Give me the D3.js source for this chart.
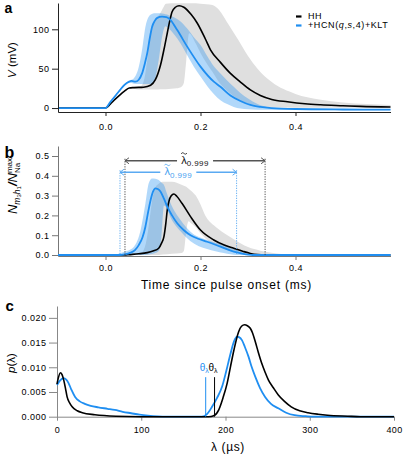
<!DOCTYPE html>
<html><head><meta charset="utf-8">
<script src="https://cdn.jsdelivr.net/npm/d3@7"></script>
<style>
body{margin:0;background:#fff;}
svg{display:block;font-family:"Liberation Sans",Arial,Helvetica,sans-serif;}
</style></head><body>
<svg id="c" width="404" height="454"></svg>
<script>
// ---------- DATA ----------
// Panel a: membrane potential V (mV) vs time (ms)
const aHH = [[-0.1,0],[0,0],[0.01,5],[0.02,11],[0.03,16.5],[0.04,21.5],[0.05,25.5],[0.06,26],[0.08,26.5],[0.095,29],[0.105,36],[0.116,55],[0.125,80],[0.13,95],[0.135,110],[0.14,122],[0.147,128],[0.155,130],[0.165,128],[0.18,119],[0.193,108],[0.21,88],[0.221,74],[0.242,58],[0.263,44],[0.284,33],[0.305,23],[0.326,16],[0.35,11],[0.383,8],[0.42,5.5],[0.453,4.2],[0.5,3],[0.537,2.1],[0.6,1.3]];
const aHCN = [[-0.1,0],[0,0],[0.01,7.5],[0.02,15],[0.03,22.5],[0.04,29.5],[0.05,33.5],[0.055,34.5],[0.063,33.5],[0.07,36],[0.077,44],[0.083,57],[0.088,70],[0.093,88],[0.098,103],[0.104,111],[0.109,114.5],[0.119,116],[0.128,115.5],[0.135,113],[0.151,99],[0.172,78],[0.2,52.6],[0.228,33.5],[0.242,27],[0.263,16],[0.284,9],[0.305,4],[0.326,1.5],[0.35,0],[0.4,-1.2],[0.5,-1.8],[0.6,-2]];
// bands: [t, low, high]
const aHHBand = [[0.055,25,26],[0.065,24,26.5],[0.075,23.5,28],[0.082,23.5,38],[0.088,23.5,61],[0.095,23.5,95],[0.105,23.5,112],[0.115,24,120],[0.122,24,128],[0.127,24,132.5],[0.15,25,133],[0.16,27,133],[0.165,32,133],[0.17,60,133],[0.176,95,133],[0.19,82,133],[0.2,70,132.5],[0.225,46,131],[0.24,32,124],[0.26,20,105],[0.28,11,86],[0.3,6,66],[0.32,3,50],[0.35,1,33],[0.4,0.5,18],[0.45,0.5,11],[0.5,0.5,7],[0.55,0.5,5],[0.6,0.5,4]];
const aHCNBand = [[0,0,0],[0.02,14,16],[0.04,28,31],[0.05,32,35],[0.06,31,38],[0.07,30.5,52],[0.077,30.5,74],[0.084,30.5,103],[0.091,30.5,116],[0.1,31,120],[0.105,38,120.5],[0.112,61,120.5],[0.119,90,120],[0.126,104,119],[0.133,101,118],[0.145,93,115],[0.158,82,110],[0.172,67,101],[0.186,52.5,90],[0.2,40,80],[0.214,28,66],[0.228,18,53],[0.242,10,44],[0.256,5,35],[0.27,1.5,27],[0.284,-0.5,19],[0.3,-1.5,12],[0.32,-2,5],[0.34,-2.2,1.5],[0.4,-2.5,-0.5],[0.6,-2.8,-1.2]];

// Panel b: N_m3h1 / N_Na^max vs time (ms)
const bHH = [[-0.1,0],[0.04,0],[0.05,0.002],[0.07,0.006],[0.088,0.012],[0.1,0.02],[0.112,0.034],[0.118,0.06],[0.123,0.093],[0.127,0.16],[0.13,0.227],[0.134,0.275],[0.138,0.298],[0.144,0.308],[0.15,0.297],[0.161,0.261],[0.179,0.194],[0.2,0.126],[0.228,0.076],[0.25,0.05],[0.27,0.034],[0.29,0.018],[0.305,0.008],[0.32,0.002],[0.335,0],[0.6,0]];
const bHCN = [[-0.1,0],[0.03,0],[0.04,0.003],[0.053,0.012],[0.062,0.025],[0.07,0.05],[0.078,0.09],[0.084,0.143],[0.09,0.22],[0.095,0.278],[0.1,0.32],[0.105,0.337],[0.11,0.333],[0.116,0.32],[0.123,0.285],[0.13,0.244],[0.14,0.2],[0.151,0.16],[0.165,0.125],[0.179,0.1],[0.195,0.082],[0.214,0.067],[0.242,0.042],[0.27,0.017],[0.29,0.006],[0.3,0.002],[0.31,0],[0.6,0]];
const bHHBand = [[0.04,0,0],[0.06,0,0.003],[0.075,0,0.01],[0.085,0,0.06],[0.09,0,0.13],[0.095,0,0.22],[0.1,0,0.3],[0.105,0,0.34],[0.112,0,0.36],[0.12,0.002,0.37],[0.14,0.006,0.37],[0.16,0.01,0.355],[0.165,0.02,0.35],[0.17,0.12,0.345],[0.175,0.17,0.335],[0.18,0.16,0.325],[0.19,0.14,0.3],[0.2,0.11,0.255],[0.21,0.085,0.2],[0.228,0.055,0.15],[0.25,0.03,0.11],[0.27,0.015,0.08],[0.3,0.003,0.04],[0.326,0,0.022],[0.36,0,0.008],[0.4,0,0]];
const bHCNBand = [[0.02,0,0],[0.032,0,0.01],[0.045,0,0.02],[0.06,0,0.042],[0.074,0,0.126],[0.084,0,0.26],[0.091,0.002,0.362],[0.098,0.005,0.387],[0.105,0.01,0.385],[0.112,0.02,0.379],[0.118,0.1,0.365],[0.123,0.25,0.354],[0.128,0.24,0.32],[0.137,0.19,0.261],[0.158,0.12,0.177],[0.179,0.07,0.118],[0.214,0.03,0.076],[0.249,0.01,0.05],[0.277,0,0.025],[0.3,0,0.005],[0.31,0,0]];
// lambda_0.999 windows [start, end] (ms) and arrow level (N units)
const lamHH = [0.041, 0.336], lamHHLevel = 0.476;
const lamHCN = [0.0305, 0.276], lamHCNLevel = 0.418;

// Panel c: p(lambda) vs lambda (us)
const cHH = [[0,0.0066],[1.5,0.0078],[4,0.0089],[6,0.0085],[8,0.0074],[10,0.0058],[12,0.004],[15,0.0028],[18,0.002],[24,0.0012],[30,0.0008],[45,0.0004],[70,0.0001],[100,0],[180,0],[186,0.0002],[192,0.0014],[197,0.0038],[202,0.0068],[206,0.0102],[210,0.0135],[215.6,0.0172],[219,0.0183],[222.7,0.0186],[226,0.0184],[229.4,0.0179],[232,0.017],[235.3,0.0152],[239,0.013],[243,0.0108],[247,0.009],[251,0.0074],[257,0.0058],[262.7,0.0044],[270,0.0031],[278,0.002],[288,0.0012],[298,0.0008],[310,0.0005],[321,0.0003],[345,0.0001],[360,0],[400,0]];
const cHCN = [[0,0.0064],[3,0.0072],[7.8,0.0078],[11,0.0075],[13.7,0.0068],[17,0.0055],[21.5,0.004],[27,0.0031],[33,0.0026],[40,0.0022],[49,0.0019],[60,0.0016],[68.6,0.00136],[78,0.001],[88,0.0007],[98,0.0004],[108,0.0002],[120,0.00005],[130,0],[172,0],[178,0.0005],[184,0.002],[190,0.0038],[196,0.0061],[201,0.0093],[206,0.0128],[210,0.0152],[213.6,0.0162],[216,0.0161],[219.5,0.0155],[223,0.0141],[227.4,0.0121],[231,0.0101],[235.3,0.0081],[241,0.0058],[247,0.004],[254,0.0026],[262.7,0.0017],[272,0.0008],[282,0.0003],[295,0.0001],[305,0],[400,0]];
const thetaHH = 187, thetaHCN = 176.5, thetaMark = 0.008;

// tick values & labels
const tTicks = [0, 0.2, 0.4];
const vTicks = [0, 50, 100];
const nTicks = [0, 0.1, 0.2, 0.3, 0.4, 0.5];
const pTicks = [0, 0.005, 0.01, 0.015, 0.02];
const lTicks = [0, 100, 200, 300, 400];
const legendLabels = ["HH", "+HCN(q,s,4)+KLT"];

// ---------- STYLE ----------
const BLUE = '#1f8ef1', BLACK = '#000';
const GRAYBAND = '#dfdfdf';
const svg = d3.select('#c');

const xA = d3.scaleLinear([-0.1, 0.6], [58, 390.5]);
const yA = d3.scaleLinear([-5, 133.4], [112, 3]);
const yB = d3.scaleLinear([-0.005, 0.5505], [256, 146]);
const xC = d3.scaleLinear([0, 400], [57, 394]);
const yC = d3.scaleLinear([0, 0.0224], [416.7, 306]);

const lineG = (x, y) => d3.line().x(d => x(d[0])).y(d => y(d[1])).curve(d3.curveMonotoneX);
const areaG = (x, y) => d3.area().x(d => x(d[0])).y0(d => y(d[1])).y1(d => y(d[2])).curve(d3.curveMonotoneX);

function styleAxis(g, color, ls) {
  g.select('.domain').attr('stroke', color).attr('stroke-width', 1);
  g.selectAll('.tick line').attr('stroke', color);
  g.selectAll('.tick text').attr('fill', '#000').attr('font-size', 9)
    .style('letter-spacing', (ls === undefined ? 0.5 : ls) + 'px').attr('font-family', '"Liberation Sans",Arial,sans-serif');
}

// ---------- PANEL A ----------
const pa = svg.append('g');
pa.append('path').attr('d', areaG(xA, yA)(aHHBand)).attr('fill', GRAYBAND);
pa.append('path').attr('d', areaG(xA, yA)(aHCNBand)).attr('fill', BLUE).attr('fill-opacity', 0.35);
pa.append('path').attr('d', lineG(xA, yA)(aHH)).attr('fill', 'none').attr('stroke', BLACK).attr('stroke-width', 1.6);
pa.append('path').attr('d', lineG(xA, yA)(aHCN)).attr('fill', 'none').attr('stroke', BLUE).attr('stroke-width', 1.8);
pa.append('g').attr('transform', 'translate(0,112)')
  .call(d3.axisBottom(xA).tickValues(tTicks).tickFormat(d3.format('.1f')).tickSize(4).tickPadding(8).tickSizeOuter(0))
  .call(g => styleAxis(g, '#222'));
pa.append('g').attr('transform', 'translate(58,0)')
  .call(d3.axisLeft(yA).tickValues(vTicks).tickSize(6).tickPadding(2.5).tickSizeOuter(0))
  .call(g => styleAxis(g, '#222'));
// y label
const ya = pa.append('text').attr('transform', 'translate(15.5,60) rotate(-90)').attr('text-anchor', 'middle').attr('font-size', 11.5);
ya.append('tspan').attr('font-style', 'italic').text('V');
ya.append('tspan').text(' (mV)');
// legend
const leg = pa.append('g');
[[BLACK, 16.5], [BLUE, 25.5]].forEach(c => {
  leg.append('line').attr('x1', 296).attr('x2', 301.5).attr('y1', c[1]).attr('y2', c[1]).attr('stroke', c[0]).attr('stroke-width', 2.2);
});
leg.append('text').attr('x', 308).attr('y', 19.3).attr('font-size', 9).style('letter-spacing', '0.6px').text(legendLabels[0]);
const l2 = leg.append('text').attr('x', 308).attr('y', 28).attr('font-size', 9).style('letter-spacing', '0.6px');
l2.append('tspan').text('+HCN(');
l2.append('tspan').attr('font-style', 'italic').text('q');
l2.append('tspan').text(',');
l2.append('tspan').attr('font-style', 'italic').text('s');
l2.append('tspan').text(',4)+KLT');
svg.append('text').attr('x', 4.5).attr('y', 13).attr('font-size', 14).attr('font-weight', 'bold').text('a');

// ---------- PANEL B ----------
const pb = svg.append('g');
pb.append('path').attr('d', areaG(xA, yB)(bHHBand)).attr('fill', GRAYBAND);
pb.append('path').attr('d', areaG(xA, yB)(bHCNBand)).attr('fill', BLUE).attr('fill-opacity', 0.35);
pb.append('g').attr('transform', 'translate(0,256)')
  .call(d3.axisBottom(xA).tickValues(tTicks).tickFormat(d3.format('.1f')).tickSize(4).tickPadding(5).tickSizeOuter(0))
  .call(g => styleAxis(g, '#777'));
pb.append('g').attr('transform', 'translate(58,0)')
  .call(d3.axisLeft(yB).tickValues(nTicks).tickFormat(d3.format('.1f')).tickSize(6).tickPadding(2.5).tickSizeOuter(0))
  .call(g => styleAxis(g, '#777'));
pb.append('path').attr('d', lineG(xA, yB)(bHH)).attr('fill', 'none').attr('stroke', BLACK).attr('stroke-width', 1.6);
pb.append('path').attr('d', lineG(xA, yB)(bHCN)).attr('fill', 'none').attr('stroke', BLUE).attr('stroke-width', 1.8);

function lamArrow(range, level, color, dotColor, txtColor) {
  const x1 = xA(range[0]), x2 = xA(range[1]), y = yB(level), mid = (x1 + x2) / 2, gap = 18;
  const g = pb.append('g');
  [x1, x2].forEach(x => g.append('line').attr('x1', x).attr('x2', x).attr('y1', y - 2).attr('y2', yB(0))
    .attr('stroke', dotColor).attr('stroke-width', 0.9).attr('stroke-dasharray', '1.2,1.3'));
  g.append('line').attr('x1', x1).attr('x2', mid - gap).attr('y1', y).attr('y2', y).attr('stroke', color).attr('stroke-width', 1.3);
  g.append('line').attr('x1', mid + gap).attr('x2', x2).attr('y1', y).attr('y2', y).attr('stroke', color).attr('stroke-width', 1.3);
  g.append('path').attr('d', `M${x1 + 4},${y - 3}L${x1},${y}L${x1 + 4},${y + 3}`).attr('fill', 'none').attr('stroke', color).attr('stroke-width', 1);
  g.append('path').attr('d', `M${x2 - 4},${y - 3}L${x2},${y}L${x2 - 4},${y + 3}`).attr('fill', 'none').attr('stroke', color).attr('stroke-width', 1);
  const t = g.append('text').attr('x', mid).attr('y', y + 3).attr('text-anchor', 'middle').attr('fill', txtColor);
  t.append('tspan').attr('font-size', 11).text('λ');
  t.append('tspan').attr('font-size', 8).attr('dy', 2.5).style('letter-spacing', '0.4px').text('0.999');
  // tilde over lambda (drawn as a small wave)
  const cx = mid - 11, ty = y + 3 - 10.3;
  g.append('path').attr('d', `M${cx - 2.8},${ty + 0.4}C${cx - 1.9},${ty - 1.4} ${cx - 0.9},${ty - 0.6} ${cx},${ty}S${cx + 1.9},${ty + 1.4} ${cx + 2.8},${ty - 0.4}`)
    .attr('fill', 'none').attr('stroke', txtColor).attr('stroke-width', 0.8);
}
lamArrow(lamHH, lamHHLevel, '#555', '#333', '#111');
lamArrow(lamHCN, lamHCNLevel, '#5aaaf2', '#4da3f0', '#4aa2f0');

const yb = pb.append('text').attr('transform', 'translate(16.5,186) rotate(-90)').attr('text-anchor', 'middle').attr('font-size', 13);
yb.append('tspan').attr('font-style', 'italic').text('N');
yb.append('tspan').attr('font-style', 'italic').attr('font-size', 8.5).attr('dy', 3).text('m');
yb.append('tspan').attr('font-size', 6).attr('dy', 1.5).text('3');
yb.append('tspan').attr('font-style', 'italic').attr('font-size', 8.5).attr('dy', -1.5).text('h');
yb.append('tspan').attr('font-size', 6).attr('dy', 1.5).text('1');
yb.append('tspan').attr('font-weight', 'bold').attr('font-style', 'italic').attr('dy', -4.5).text('/');
yb.append('tspan').attr('font-style', 'italic').text('N');
yb.append('tspan').attr('font-size', 8).attr('dy', -5).text('max');
yb.append('tspan').attr('font-size', 8).attr('dx', -15.1).attr('dy', 8).text('Na');
pb.append('text').attr('x', 226.5).attr('y', 289).attr('text-anchor', 'middle').attr('font-size', 12).style('letter-spacing', '0.8px').text('Time since pulse onset (ms)');
svg.append('text').attr('x', 4.5).attr('y', 158).attr('font-size', 16).attr('font-weight', 'bold').text('b');

// ---------- PANEL C ----------
const pc = svg.append('g');
pc.append('g').attr('transform', 'translate(0,416.7)')
  .call(d3.axisBottom(xC).tickValues(lTicks).tickSize(4).tickPadding(6).tickSizeOuter(0))
  .call(g => styleAxis(g, '#888', 0.3));
pc.append('g').attr('transform', 'translate(57,0)')
  .call(d3.axisLeft(yC).tickValues(pTicks).tickFormat(d3.format('.3f')).tickSize(8).tickPadding(2.5).tickSizeOuter(0))
  .call(g => styleAxis(g, '#888'));
pc.append('path').attr('d', lineG(xC, yC)(cHCN)).attr('fill', 'none').attr('stroke', BLUE).attr('stroke-width', 1.8);
pc.append('path').attr('d', lineG(xC, yC)(cHH)).attr('fill', 'none').attr('stroke', BLACK).attr('stroke-width', 1.6);
[[thetaHCN, BLUE], [thetaHH, BLACK]].forEach(d => {
  pc.append('line').attr('x1', xC(d[0])).attr('x2', xC(d[0])).attr('y1', yC(thetaMark)).attr('y2', yC(0))
    .attr('stroke', d[1]).attr('stroke-width', 1);
  const t = pc.append('text').attr('x', xC(d[0]) - 1.5).attr('y', 370.7).attr('text-anchor', 'middle').attr('fill', d[1]);
  t.append('tspan').attr('font-size', 10).text('θ');
  t.append('tspan').attr('font-size', 7).attr('dy', 2).text('λ');
});
const yc = pc.append('text').attr('transform', 'translate(15,363) rotate(-90)').attr('text-anchor', 'middle').attr('font-size', 11.5);
yc.append('tspan').attr('font-style', 'italic').text('p');
yc.append('tspan').text('(λ)');
pc.append('text').attr('x', 228).attr('y', 450.5).attr('text-anchor', 'middle').attr('font-size', 12).style('letter-spacing', '0.6px').text('λ (µs)');
svg.append('text').attr('x', 5.5).attr('y', 311).attr('font-size', 15).attr('font-weight', 'bold').text('c');
</script>
</body></html>
